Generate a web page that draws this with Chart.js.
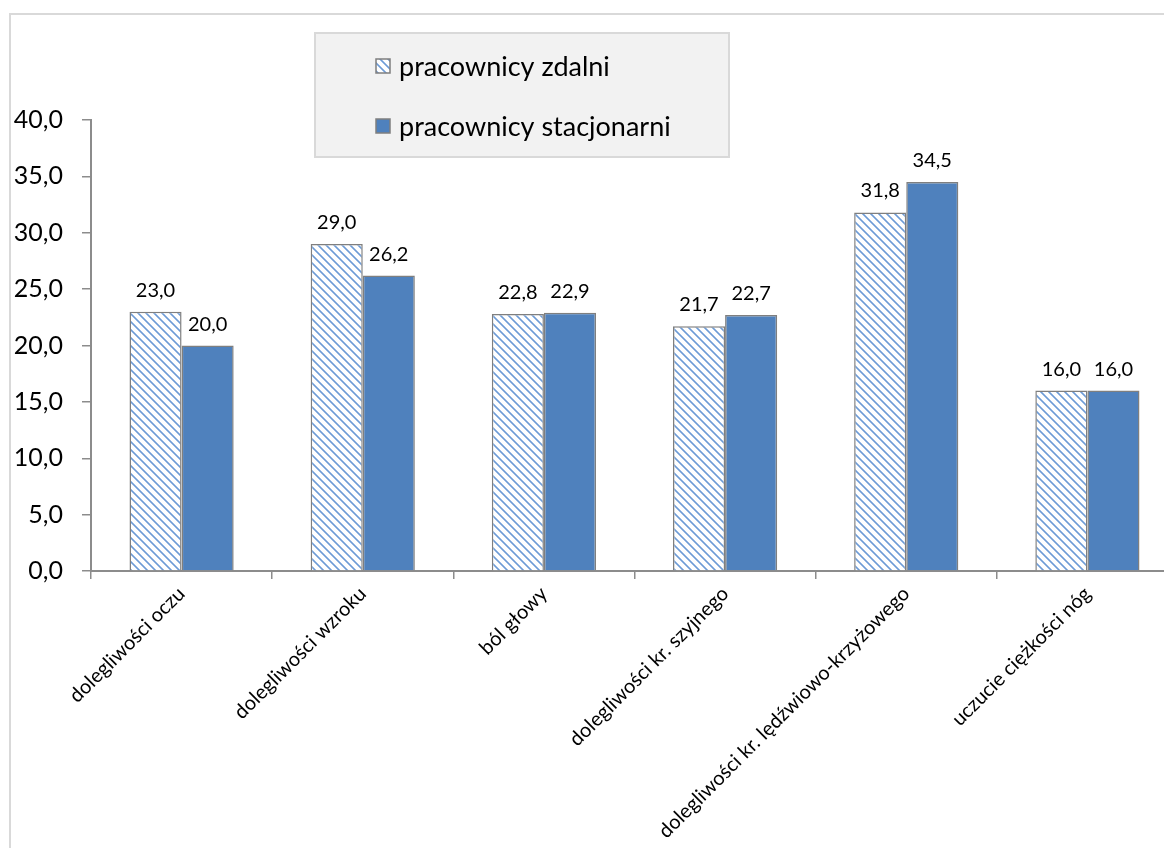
<!DOCTYPE html>
<html lang="pl">
<head>
<meta charset="utf-8">
<title>Dolegliwości zdrowotne – pracownicy zdalni i stacjonarni</title>
<script src="https://cdn.jsdelivr.net/npm/chart.js@4/dist/chart.umd.min.js"></script>
<style>
  html, body { margin: 0; padding: 0; background: #ffffff; overflow: hidden; width: 1164px; height: 848px; }
  #frame { position: absolute; left: 9px; top: 13px; width: 1300px; height: 1000px; border: 2px solid #d9d9d9; box-sizing: border-box; }
  #wrap { position: absolute; left: 0; top: 0; width: 1200px; height: 848px; }
</style>
</head>
<body>
<div id="frame"></div>
<div id="wrap"><canvas id="chart" width="1200" height="848"></canvas></div>
<script>
// Kategorie dolegliwości
const categories = [
  'dolegliwości oczu',
  'dolegliwości wzroku',
  'ból głowy',
  'dolegliwości kr. szyjnego',
  'dolegliwości kr. lędźwiowo-krzyżowego',
  'uczucie ciężkości nóg'
];
// Odsetek odpowiedzi (%)
const remoteValues = [23.0, 29.0, 22.8, 21.7, 31.8, 16.0];
const officeValues = [20.0, 26.2, 22.9, 22.7, 34.5, 16.0];
const seriesNames = ['pracownicy zdalni', 'pracownicy stacjonarni'];
// Podziałka osi Y
const yTickValues = [0, 5, 10, 15, 20, 25, 30, 35, 40];

const fmt = v => v.toFixed(1).replace('.', ',');
const FONT = 'Lato, Calibri, Carlito, sans-serif';
const SOLID = '#4f81bd';
const EDGE = '#7f7f7f';

// Wzór ukośnych pasków dla serii "zdalni"
function makeHatch() {
  const c = document.createElement('canvas');
  c.width = 8; c.height = 8;
  const g = c.getContext('2d');
  g.fillStyle = '#ffffff';
  g.fillRect(0, 0, 8, 8);
  for (let y = 0; y < 8; y++) {
    for (let x = 0; x < 8; x++) {
      const d = (x - y + 16) % 8;
      if (d === 0 || d === 2) { g.fillStyle = '#9dbde6'; g.fillRect(x, y, 1, 1); }
      else if (d === 1) { g.fillStyle = '#6f9bd4'; g.fillRect(x, y, 1, 1); }
    }
  }
  return g.createPattern(c, 'repeat');
}
const hatch = makeHatch();

// Etykiety wartości nad słupkami
const valueLabels = {
  id: 'valueLabels',
  afterDatasetsDraw(chart) {
    const ctx = chart.ctx;
    ctx.save();
    ctx.font = '20px ' + FONT;
    ctx.fillStyle = '#000000';
    ctx.textAlign = 'center';
    ctx.textBaseline = 'alphabetic';
    chart.data.datasets.forEach((ds, i) => {
      chart.getDatasetMeta(i).data.forEach((bar, j) => {
        ctx.fillText(fmt(ds.data[j]), bar.x, bar.y - 15);
      });
    });
    ctx.restore();
  }
};

// Legenda w szarym polu nad wykresem
const boxLegend = {
  id: 'boxLegend',
  afterDraw(chart) {
    const ctx = chart.ctx;
    ctx.save();
    ctx.fillStyle = '#f2f2f2';
    ctx.fillRect(315, 33, 414, 124);
    ctx.strokeStyle = '#d9d9d9';
    ctx.lineWidth = 2;
    ctx.strokeRect(315, 33, 414, 124);
    const rows = [66, 126];
    chart.data.datasets.forEach((ds, i) => {
      const cy = rows[i];
      ctx.fillStyle = ds.backgroundColor;
      ctx.fillRect(376, cy - 7, 14, 14);
      ctx.strokeStyle = EDGE;
      ctx.lineWidth = 1.5;
      ctx.strokeRect(376, cy - 7, 14, 14);
      ctx.fillStyle = '#000000';
      ctx.font = '27px ' + FONT;
      ctx.textAlign = 'left';
      ctx.textBaseline = 'middle';
      ctx.fillText(ds.label, 399, cy + 1);
    });
    ctx.restore();
  }
};

new Chart(document.getElementById('chart'), {
  type: 'bar',
  data: {
    labels: categories,
    datasets: [
      { label: seriesNames[0], data: remoteValues, backgroundColor: hatch, borderColor: EDGE, borderWidth: 1.5 },
      { label: seriesNames[1], data: officeValues, backgroundColor: SOLID, borderColor: EDGE, borderWidth: 1.5 }
    ]
  },
  options: {
    responsive: false,
    devicePixelRatio: 1,
    animation: false,
    layout: { padding: { top: 120, right: 22, bottom: 0, left: 0 } },
    datasets: { bar: { categoryPercentage: 0.575, barPercentage: 1.0 } },
    plugins: { legend: { display: false }, tooltip: { enabled: false } },
    scales: {
      x: {
        offset: true,
        afterFit(scale) { scale.height = 277; },
        border: { display: true, color: '#8c8c8c', width: 2 },
        grid: { display: true, offset: true, drawOnChartArea: false, drawTicks: true, tickLength: 8, color: '#8c8c8c', lineWidth: 1.5 },
        ticks: {
          autoSkip: false,
          minRotation: 45,
          maxRotation: 45,
          padding: 3,
          color: '#000000',
          font: { family: FONT, size: 20 }
        }
      },
      y: {
        min: 0,
        max: 40,
        afterFit(scale) { scale.width = 91; },
        afterBuildTicks(scale) { scale.ticks = yTickValues.map(v => ({ value: v })); },
        border: { display: true, color: '#8c8c8c', width: 2 },
        grid: { display: true, drawOnChartArea: false, drawTicks: true, tickLength: 9, color: '#8c8c8c', lineWidth: 1.5 },
        ticks: {
          padding: 19,
          color: '#000000',
          font: { family: FONT, size: 25 },
          callback: v => fmt(v)
        }
      }
    }
  },
  plugins: [valueLabels, boxLegend]
});
</script>
</body>
</html>
